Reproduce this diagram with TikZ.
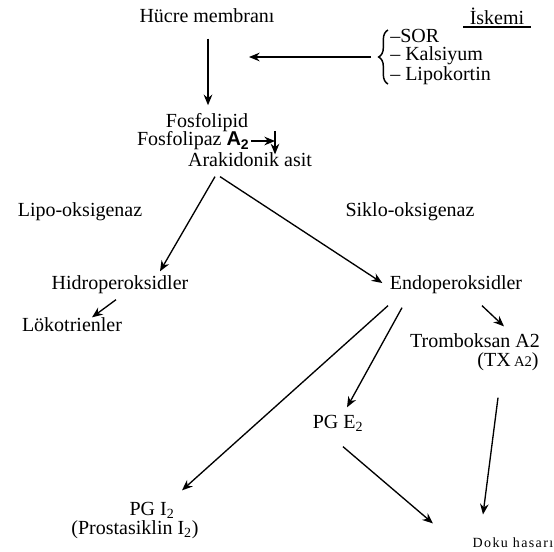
\documentclass[tikz,border=0pt]{standalone}
\usepackage{fontspec}
\setmainfont{Liberation Serif}
\setsansfont{Liberation Sans}
\usetikzlibrary{positioning,arrows.meta,calc,decorations.pathreplacing}

\begin{document}
\begin{tikzpicture}[x=0.75pt, y=-0.75pt, font=\fontsize{15}{17}\selectfont,
    every node/.style={inner sep=1pt},
    ok/.style={-{Stealth[length=8pt,width=6.5pt]}, line width=1pt}]
  \useasboundingbox (0,0) rectangle (554,551);
  % top part
  \node (h) at (207,16) {Hücre membranı};
  \node (isk) at (497,16) {İskemi};
  \draw[line width=1.3pt] ($(isk.south west)+(-5,1)$) -- ($(isk.south east)+(5,1)$);
  \node[anchor=west, inner sep=0pt] (sor) at (390,36) {--SOR};
  \node[anchor=west, inner sep=0pt] (kal) at (390,56) {-- Kalsiyum};
  \node[anchor=west, inner sep=0pt] (lip) at (390,76) {-- Lipokortin};
  \draw[decorate, decoration={brace, amplitude=7pt}, line width=1.1pt] (388,84) -- (388,30);
  \node (f) at (207,123) {Fosfolipid};
  \node[anchor=east] (fa) at (251,141) {Fosfolipaz {\sffamily\bfseries A\textsubscript{2}}};
  \node (ak) at (250,160) {Arakidonik asit};
  \coordinate (br) at (371,57);
  \coordinate (hf) at (249,57);
  \coordinate (fv) at ($(f.south)+(68,-3)$);
  \draw[ok] ($(h.south)+(1,14)$) -- ($(f.north)+(1,-7)$);
  \draw[ok] (br) -- (hf);
  \draw[ok] (fv) -- ($(ak.north)+(25,3)$);
  \draw[ok] (fa.east) -- (fa.east -| fv);
  % enzymes
  \node (lo) at (80,212) {Lipo-oksigenaz};
  \node (so) at (410,212) {Siklo-oksigenaz};
  \node (hp) at (120,285) {Hidroperoksidler};
  \node (ep) at (456,285) {Endoperoksidler};
  \node (lk) at (72,325) {Lökotrienler};
  \draw[ok] ($(ak.south)+(-35,8)$) -- ($(hp.north)+(40,-3)$);
  \draw[ok] ($(ak.south)+(-30,8)$) -- ($(ep.west)+(-6,-2)$);
  \draw[ok] ($(hp.south)+(-4,4)$) -- ($(lk.north)+(20,1)$);
  % products
  \node (tx) at (475,341) {Tromboksan A2};
  \node (txa) at (508,362) {(TX\,{\fontsize{11}{12}\selectfont A2})};
  \node (pe) at (338,423) {PG E\textsubscript{2}};
  \node (pi) at (152,510) {PG I\textsubscript{2}};
  \node (pr) at (135,530) {(Prostasiklin I\textsubscript{2})};
  \node (dh) at (513,543) {\fontsize{10.5}{12}\selectfont\addfontfeature{LetterSpace=10}Doku hasarı};
  \draw[ok] ($(ep.south)+(-68,10)$) -- ($(pi.north)+(30,-10)$);
  \draw[ok] ($(ep.south)+(-54,12)$) -- ($(pe.north)+(9,-6)$);
  \draw[ok] ($(ep.south)+(26,10)$) -- ($(tx.north)+(29,-6)$);
  \draw[ok] ($(pe.south)+(5,14)$) -- ($(dh.north)+(-80,-13)$);
  \draw[ok] ($(txa.south)+(-10,25)$) -- ($(dh.north)+(-30,-22)$);
\end{tikzpicture}
\end{document}
